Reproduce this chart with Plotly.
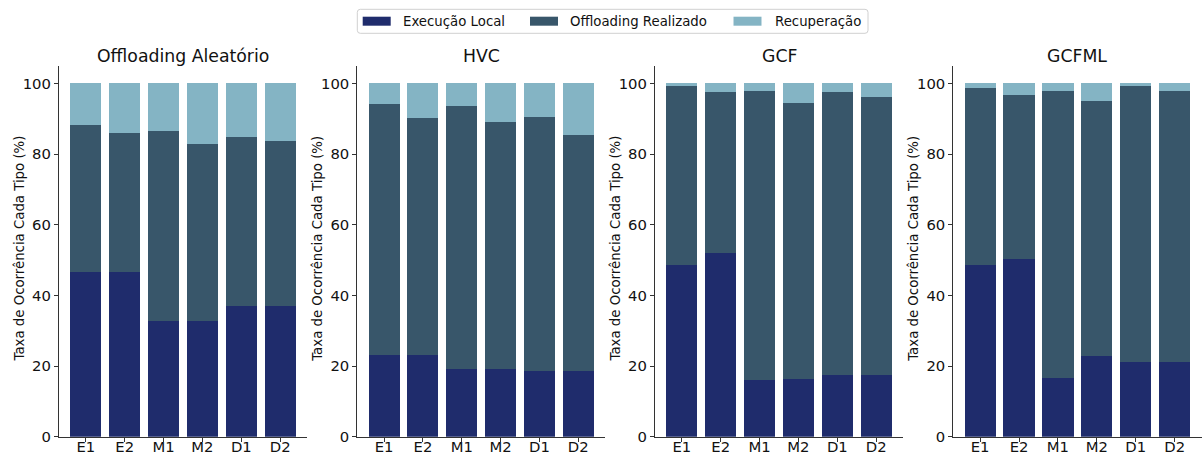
import plotly.graph_objects as go

# Scenarios on the x axis
categorias = ["E1", "E2", "M1", "M2", "D1", "D2"]

# Percentages per strategy: local execution, offloading done, recovery
aleatorio_local = [46.6, 46.6, 32.7, 32.7, 37.0, 37.0]
aleatorio_offload = [41.6, 39.3, 53.8, 50.1, 47.8, 46.7]
aleatorio_recup = [11.8, 14.1, 13.5, 17.2, 15.2, 16.3]

hvc_local = [23.1, 23.1, 19.2, 19.2, 18.6, 18.6]
hvc_offload = [71.1, 67.1, 74.4, 69.9, 71.9, 66.8]
hvc_recup = [5.8, 9.8, 6.4, 10.9, 9.5, 14.6]

gcf_local = [48.6, 52.0, 16.0, 16.3, 17.5, 17.5]
gcf_offload = [50.9, 45.5, 81.8, 78.1, 80.0, 78.6]
gcf_recup = [0.5, 2.5, 2.2, 5.6, 2.5, 3.9]

gcfml_local = [48.6, 50.3, 16.6, 22.8, 21.1, 21.1]
gcfml_offload = [50.1, 46.4, 81.2, 72.2, 78.1, 76.7]
gcfml_recup = [1.3, 3.3, 2.2, 5.0, 0.8, 2.2]

titulos = ["Offloading Aleatório", "HVC", "GCF", "GCFML"]
series_nomes = ["Execução Local", "Offloading Realizado", "Recuperação"]
cores = ["#1f2c6c", "#38566a", "#84b4c4"]

paineis = [
    (aleatorio_local, aleatorio_offload, aleatorio_recup),
    (hvc_local, hvc_offload, hvc_recup),
    (gcf_local, gcf_offload, gcf_recup),
    (gcfml_local, gcfml_offload, gcfml_recup),
]

W, H = 1202, 454
FONT = "DejaVu Sans"
TXT = "#111111"
SPINE = "#333333"
TICK_SIZE = 14.8

# Horizontal pixel extents of each axes box
x_px = [(59, 307), (357.3, 605), (655, 903), (953.3, 1201.5)]
y_bottom_px, y_top_px = 436.7, 65.7

def px_x(p):
    return p / W

def px_y(p):
    return (H - p) / H

fig = go.Figure()

for i, (loc, off, rec) in enumerate(paineis):
    sfx = "" if i == 0 else str(i + 1)
    for nome, vals, cor in zip(series_nomes, (loc, off, rec), cores):
        fig.add_trace(go.Bar(
            x=categorias, y=vals, name=nome, marker=dict(color=cor, line=dict(width=0)),
            xaxis="x" + sfx, yaxis="y" + sfx, showlegend=False,
        ))

layout = dict(
    width=W, height=H, margin=dict(l=0, r=0, t=0, b=0),
    barmode="stack", bargap=0.2,
    plot_bgcolor="white", paper_bgcolor="white",
    font=dict(family=FONT, size=13.3, color=TXT),
)

annotations = []
shapes = []
for i in range(4):
    sfx = "" if i == 0 else str(i + 1)
    x0, x1 = x_px[i]
    layout["xaxis" + sfx] = dict(
        domain=[px_x(x0), px_x(x1)], anchor="y" + sfx,
        range=[-0.69, 5.69], type="category", automargin=False,
        showline=True, linecolor=SPINE, linewidth=1.2,
        ticks="outside", ticklen=4, tickwidth=1.2, tickcolor=SPINE,
        ticklabelstandoff=-8,
        showgrid=False, zeroline=False,
        tickfont=dict(family=FONT, size=TICK_SIZE, color=TXT),
    )
    layout["yaxis" + sfx] = dict(
        domain=[px_y(y_bottom_px), px_y(y_top_px)], anchor="x" + sfx,
        range=[0, 105], tickvals=[0, 20, 40, 60, 80, 100], automargin=False,
        showline=True, linecolor=SPINE, linewidth=1.2,
        ticks="outside", ticklen=4, tickwidth=1.2, tickcolor=SPINE,
        showgrid=False, zeroline=False,
        tickfont=dict(family=FONT, size=TICK_SIZE, color=TXT),
    )
    # panel title
    annotations.append(dict(
        text=titulos[i], x=px_x((x0 + x1) / 2), y=px_y(55.5),
        xref="paper", yref="paper", xanchor="center", yanchor="middle",
        showarrow=False, font=dict(family=FONT, size=17.3, color=TXT),
    ))
    # y axis label
    annotations.append(dict(
        text="Taxa de Ocorrência Cada Tipo (%)", textangle=-90,
        x=px_x(x0 - 40), y=px_y(248.5),
        xref="paper", yref="paper", xanchor="center", yanchor="middle",
        showarrow=False, font=dict(family=FONT, size=13.3, color=TXT),
    ))

# Legend drawn as a framed row of swatches and labels
lx0, lx1, ly0, ly1 = 357.3, 868, 9.3, 33.3
r = 3

def legend_frame_path():
    def X(v):
        return f"{px_x(v):.6f}"
    def Y(v):
        return f"{px_y(v):.6f}"
    return (f"M {X(lx0 + r)},{Y(ly0)} L {X(lx1 - r)},{Y(ly0)} Q {X(lx1)},{Y(ly0)} {X(lx1)},{Y(ly0 + r)} "
            f"L {X(lx1)},{Y(ly1 - r)} Q {X(lx1)},{Y(ly1)} {X(lx1 - r)},{Y(ly1)} L {X(lx0 + r)},{Y(ly1)} "
            f"Q {X(lx0)},{Y(ly1)} {X(lx0)},{Y(ly1 - r)} L {X(lx0)},{Y(ly0 + r)} Q {X(lx0)},{Y(ly0)} {X(lx0 + r)},{Y(ly0)} Z")

shapes.append(dict(type="path", xref="paper", yref="paper", path=legend_frame_path(),
                   line=dict(color="#d0d0d0", width=1), fillcolor="white"))

swatch_x = [362.7, 530, 733.5]
label_x = [400.7, 568, 772.7]
for sx, lxp, nome, cor in zip(swatch_x, label_x, series_nomes, cores):
    shapes.append(dict(type="rect", xref="paper", yref="paper",
                       x0=px_x(sx), x1=px_x(sx + 28), y0=px_y(25.7), y1=px_y(16.7),
                       line=dict(width=0), fillcolor=cor))
    annotations.append(dict(
        text=nome, x=px_x(lxp), y=px_y(21.2), xref="paper", yref="paper",
        xanchor="left", yanchor="middle", showarrow=False,
        font=dict(family=FONT, size=13.3, color=TXT),
    ))

layout["annotations"] = annotations
layout["shapes"] = shapes
fig.update_layout(**layout)
fig.write_html("out.html")
